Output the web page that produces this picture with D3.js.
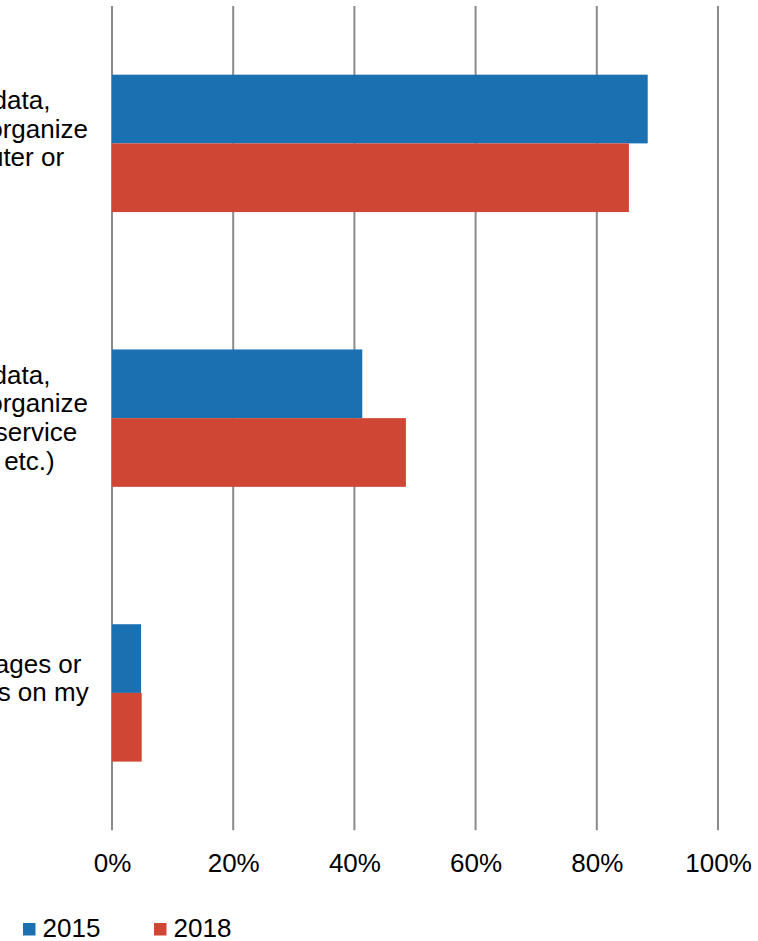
<!DOCTYPE html>
<html>
<head>
<meta charset="utf-8">
<script src="https://cdn.jsdelivr.net/npm/d3@7"></script>
<style>
  html, body { margin: 0; padding: 0; background: #fff; }
  svg { display: block; overflow: hidden; }
  text { font-family: Arial, "Liberation Sans", sans-serif; fill: #000; }
</style>
</head>
<body>
<script>
// Category labels, one array of wrapped lines per category
const categoryLines = [
  ["I save all my data,", "documents and organize", "it on my computer or", "device"],
  ["I save all my data,", "documents and organize", "it using a cloud service", "(like Dropbox, etc.)"],
  ["I print out web pages or", "save them as files on my", "device"]
];
const categories = categoryLines.map(l => l.join(" "));
const seriesNames = ["2015", "2018"];
const values2015 = [0.884, 0.413, 0.048];
const values2018 = [0.853, 0.485, 0.049];
const tickValues = [0, 0.2, 0.4, 0.6, 0.8, 1.0];
const colors = ["#1a70b1", "#cf4734"];

const W = 758, H = 941;
const FONT = 26;
const svg = d3.select("body").append("svg").attr("width", W).attr("height", H);

const x = d3.scaleLinear().domain([0, 1]).range([112, 718]);
const y = d3.scaleBand().domain(categories).range([6, 830.3]).paddingInner(0.5).paddingOuter(0.25);
const ySub = d3.scaleBand().domain(seriesNames).range([0, y.bandwidth()]);
const color = d3.scaleOrdinal().domain(seriesNames).range(colors);

// Vertical gridlines
svg.append("g")
  .selectAll("line")
  .data(tickValues)
  .join("line")
  .attr("x1", d => x(d)).attr("x2", d => x(d))
  .attr("y1", 6).attr("y2", 830.3)
  .attr("stroke", "#8a8a8a")
  .attr("stroke-width", 2);

// Bars
const rows = categories.map((c, i) => ({ cat: c, vals: [
  { s: "2015", v: values2015[i] },
  { s: "2018", v: values2018[i] }
]}));

svg.append("g")
  .selectAll("g")
  .data(rows)
  .join("g")
  .attr("transform", d => `translate(0,${y(d.cat)})`)
  .selectAll("rect")
  .data(d => d.vals)
  .join("rect")
  .attr("x", x(0))
  .attr("y", d => ySub(d.s))
  .attr("width", d => x(d.v) - x(0))
  .attr("height", ySub.bandwidth())
  .attr("fill", d => color(d.s));

// Category labels (centred, wrapped)
const labelCx = -54.4, lineH = 28.7;
const lab = svg.append("g").attr("font-size", FONT).attr("text-anchor", "middle");
categoryLines.forEach((lines, i) => {
  const cy = y(categories[i]) + y.bandwidth() / 2;
  const n = lines.length;
  lab.append("text")
    .selectAll("tspan")
    .data(lines)
    .join("tspan")
    .attr("x", labelCx)
    .attr("y", (d, j) => cy + (j - (n - 1) / 2) * lineH + 8.5)
    .text(d => d);
});

// X axis tick labels
const xAxis = d3.axisBottom(x).tickValues(tickValues).tickSize(0).tickPadding(0)
  .tickFormat(d3.format(".0%"));
const ax = svg.append("g").attr("transform", "translate(0,872)").call(xAxis);
ax.select(".domain").remove();
ax.selectAll("text")
  .attr("font-size", FONT)
  .attr("font-family", 'Arial, "Liberation Sans", sans-serif')
  .attr("fill", "#000")
  .attr("dy", 0)
  .attr("y", 0);

// Legend
const legendX = [23, 154];
const leg = svg.append("g").selectAll("g")
  .data(seriesNames)
  .join("g")
  .attr("transform", (d, i) => `translate(${legendX[i]},923)`);
leg.append("rect").attr("width", 12.5).attr("height", 12.5).attr("fill", d => color(d));
leg.append("text").attr("x", 19.5).attr("y", 14).attr("font-size", FONT).text(d => d);
</script>
</body>
</html>
